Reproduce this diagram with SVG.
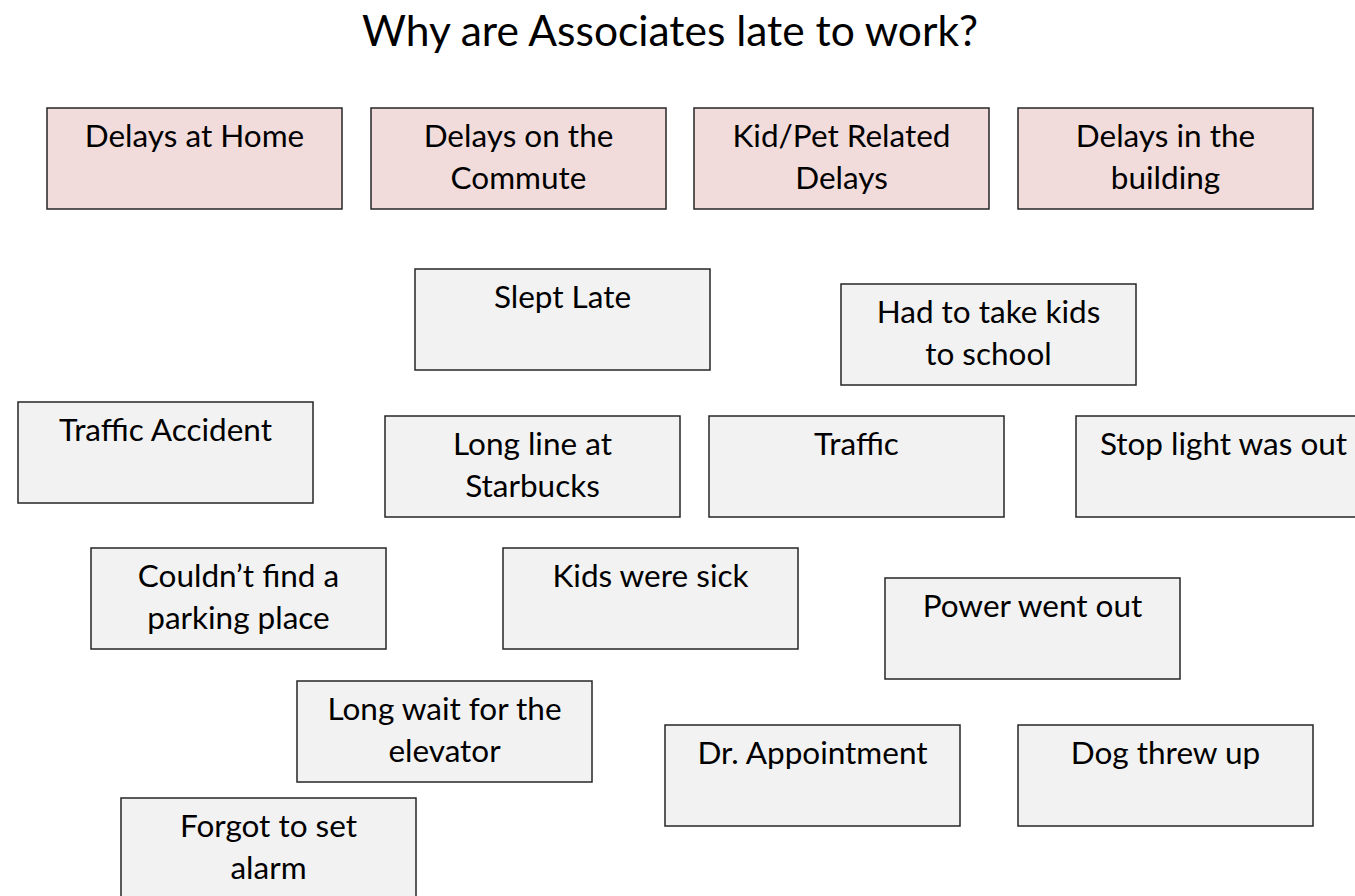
<svg xmlns="http://www.w3.org/2000/svg" width="1355" height="896" viewBox="0 0 1355 896">
<style>
.b rect{stroke:#262626;stroke-width:1.5}
.p rect{fill:#F2DCDB}
.g rect{fill:#F2F2F2}
text{font-family:Lato,"Open Sans","Liberation Sans",sans-serif;font-size:31.5px;fill:#000;text-anchor:middle}
.t{font-size:42.5px}
</style>
<rect width="1355" height="896" fill="#fff"/>
<text class="t" x="670" y="46">Why are Associates late to work?</text>
<g id="n1" class="b p"><rect x="47" y="108" width="295" height="101"/><text x="194.5" y="147">Delays at Home</text></g>
<g id="n2" class="b p"><rect x="371" y="108" width="295" height="101"/><text x="518.5" y="147">Delays on the</text><text x="518.5" y="189">Commute</text></g>
<g id="n3" class="b p"><rect x="694" y="108" width="295" height="101"/><text x="841.5" y="147">Kid/Pet Related</text><text x="841.5" y="189">Delays</text></g>
<g id="n4" class="b p"><rect x="1018" y="108" width="295" height="101"/><text x="1165.5" y="147">Delays in the</text><text x="1165.5" y="189">building</text></g>
<g id="n5" class="b g"><rect x="415" y="269" width="295" height="101"/><text x="562.5" y="308">Slept Late</text></g>
<g id="n6" class="b g"><rect x="841" y="284" width="295" height="101"/><text x="988.5" y="323">Had to take kids</text><text x="988.5" y="365">to school</text></g>
<g id="n7" class="b g"><rect x="18" y="402" width="295" height="101"/><text x="165.5" y="441">Traffic Accident</text></g>
<g id="n8" class="b g"><rect x="385" y="416" width="295" height="101"/><text x="532.5" y="455">Long line at</text><text x="532.5" y="497">Starbucks</text></g>
<g id="n9" class="b g"><rect x="709" y="416" width="295" height="101"/><text x="856.5" y="455">Traffic</text></g>
<g id="n10" class="b g"><rect x="1076" y="416" width="295" height="101"/><text x="1223.5" y="455">Stop light was out</text></g>
<g id="n11" class="b g"><rect x="91" y="548" width="295" height="101"/><text x="238.5" y="587">Couldn’t find a</text><text x="238.5" y="629">parking place</text></g>
<g id="n12" class="b g"><rect x="503" y="548" width="295" height="101"/><text x="650.5" y="587">Kids were sick</text></g>
<g id="n13" class="b g"><rect x="885" y="578" width="295" height="101"/><text x="1032.5" y="617">Power went out</text></g>
<g id="n14" class="b g"><rect x="297" y="681" width="295" height="101"/><text x="444.5" y="720">Long wait for the</text><text x="444.5" y="762">elevator</text></g>
<g id="n15" class="b g"><rect x="665" y="725" width="295" height="101"/><text x="812.5" y="764">Dr. Appointment</text></g>
<g id="n16" class="b g"><rect x="1018" y="725" width="295" height="101"/><text x="1165.5" y="764">Dog threw up</text></g>
<g id="n17" class="b g"><rect x="121" y="798" width="295" height="101"/><text x="268.5" y="837">Forgot to set</text><text x="268.5" y="879">alarm</text></g>
<g id="connectors"/>
</svg>
